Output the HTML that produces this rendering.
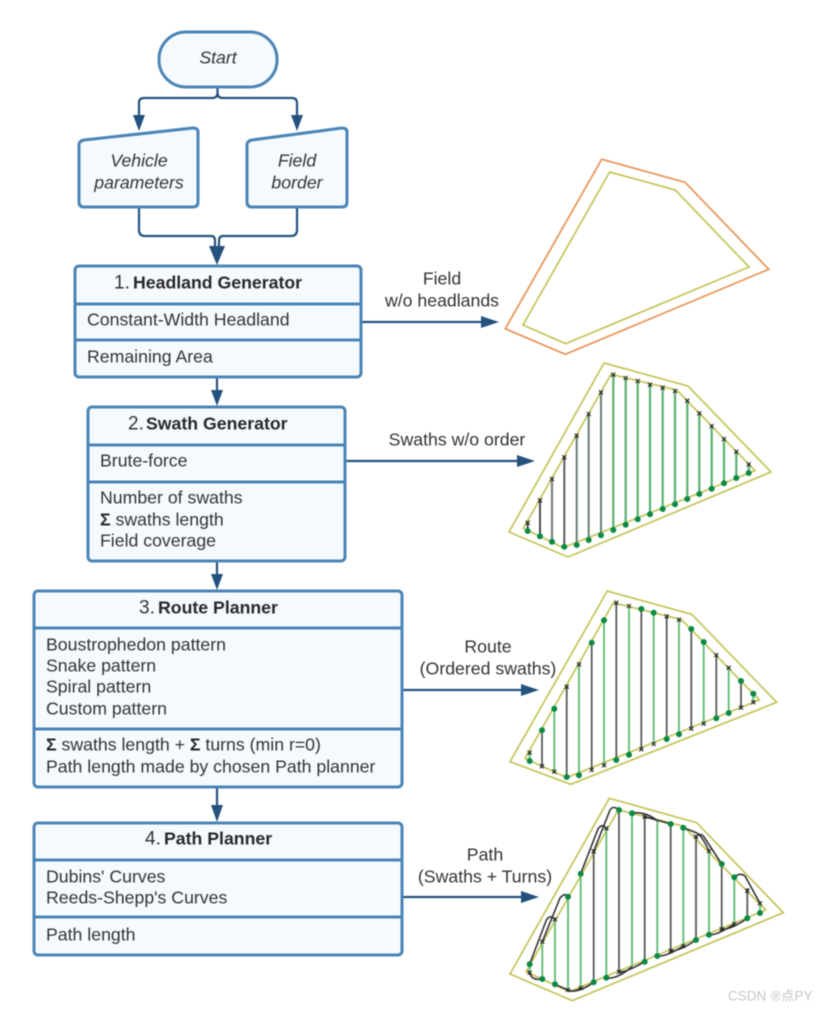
<!DOCTYPE html>
<html><head><meta charset="utf-8"><style>
html,body{margin:0;padding:0;background:#fff;width:825px;height:1010px;overflow:hidden}
svg{display:block;filter:blur(.4px)}
text{font-family:"Liberation Sans","Noto Sans CJK SC",sans-serif;font-size:17.7px;fill:#333;transform:translateY(.7px)}
.c{text-anchor:middle}.i{font-style:italic}.b{font-weight:bold;fill:#282828}.n{font-size:19px}
.box{fill:#f5faff;stroke:#4a85b7;stroke-width:3;stroke-linejoin:round}
.div{stroke:#4a85b7;stroke-width:3;fill:none}
.con{stroke:#24527f;stroke-width:2.2;fill:none}
.ah{fill:#24527f}
.y{fill:none;stroke:#c4c45a;stroke-width:1.7}
.g{stroke:#5dba72;stroke-width:1.8;fill:none}
.k{stroke:#4d554f;stroke-width:1.7;fill:none}
.x{stroke:#222;stroke-width:1.1;fill:none}
.d{stroke:#0b8a45;stroke-width:6;stroke-linecap:round;fill:none}
.t{stroke:#333;stroke-width:1.6;fill:none}
.w{font-size:13.500px;fill:#c6c6c6}
</style></head><body>
<svg width="825" height="1010" viewBox="0 0 825 1010" xmlns="http://www.w3.org/2000/svg">
<rect width="825" height="1010" fill="#fff"/>

<!-- connectors -->
<path class="con" d="M217.500 87V93Q217.500 98 212 98H144Q139 98 139 103V116M217.500 93Q217.500 98 223 98H292Q297 98 297 103V116"/>
<path class="ah" d="M133 115H145L139 131ZM291 115H303L297 131Z"/>
<path class="con" d="M139 207V230Q139 236 145 236H211Q215 236 215 241V248M297 207V230Q297 236 291 236H223Q219 236 219 241V248"/>
<path class="ah" d="M209 246H225L217 265Z"/>
<path class="con" d="M217 377V392M217 561V576M217 787V808"/>
<path class="ah" d="M211 390H223L217 406ZM211 574H223L217 590ZM211 805H223L217 822Z"/>
<path class="con" d="M361 322H484M345 461H520M402 690H524M402 897H524"/>
<path class="ah" d="M481 316V328L499 322ZM517 455V467L535 461ZM521 684V696L539 690ZM521 891V903L539 897Z"/>

<!-- start and inputs -->
<rect class="box" x="159" y="32" width="118" height="55" rx="27" ry="27"/>
<text class="c i" x="218" y="63">Start</text>
<path class="box" d="M84 140L193 128Q198 128 198 132V202Q198 207 193 207H84Q79 207 79 202V145Q79 141 84 140Z"/>
<text class="c i" x="139" y="166">Vehicle</text>
<text class="c i" x="139" y="188">parameters</text>
<path class="box" d="M252 140L342 128Q347 128 347 132V202Q347 207 342 207H252Q247 207 247 202V145Q247 141 252 140Z"/>
<text class="c i" x="297" y="166">Field</text>
<text class="c i" x="297" y="188">border</text>

<!-- box 1 -->
<rect class="box" x="75" y="266" width="286" height="111" rx="4"/>
<path class="div" d="M75 304H361M75 340H361"/>
<text class="n" x="114" y="288">1.</text><text class="b" x="133" y="288">Headland Generator</text>
<text x="87" y="325">Constant-Width Headland</text>
<text x="87" y="362">Remaining Area</text>

<!-- box 2 -->
<rect class="box" x="88" y="407" width="257" height="154" rx="4"/>
<path class="div" d="M88 445H345M88 482H345"/>
<text class="n" x="128" y="429">2.</text><text class="b" x="146" y="429">Swath Generator</text>
<text x="100" y="466">Brute-force</text>
<text x="100" y="503">Number of swaths</text>
<text x="100" y="525"><tspan class="b">Σ</tspan> swaths length</text>
<text x="100" y="546">Field coverage</text>

<!-- box 3 -->
<rect class="box" x="34" y="591" width="368" height="196" rx="4"/>
<path class="div" d="M34 628H402M34 729H402"/>
<text class="n" x="139" y="613">3.</text><text class="b" x="158" y="613">Route Planner</text>
<text x="46" y="650">Boustrophedon pattern</text>
<text x="46" y="671">Snake pattern</text>
<text x="46" y="692">Spiral pattern</text>
<text x="46" y="714">Custom pattern</text>
<text x="46" y="750"><tspan class="b">Σ</tspan> swaths length + <tspan class="b">Σ</tspan> turns (min r=0)</text>
<text x="46" y="772">Path length made by chosen Path planner</text>

<!-- box 4 -->
<rect class="box" x="34" y="823" width="368" height="132" rx="4"/>
<path class="div" d="M34 860H402M34 917H402"/>
<text class="n" x="145" y="844">4.</text><text class="b" x="164" y="844">Path Planner</text>
<text x="46" y="882">Dubins' Curves</text>
<text x="46" y="903">Reeds-Shepp's Curves</text>
<text x="46" y="940">Path length</text>

<!-- side labels -->
<text class="c" x="442" y="284">Field</text>
<text class="c" x="442" y="306">w/o headlands</text>
<text class="c" x="457" y="445">Swaths w/o order</text>
<text class="c" x="488" y="652">Route</text>
<text class="c" x="488" y="674">(Ordered swaths)</text>
<text class="c" x="485" y="860">Path</text>
<text class="c" x="485" y="882">(Swaths + Turns)</text>

<!-- field 1 -->
<polygon points="601.700,159.300 685,182.300 768.700,269.300 565.300,354.300 505.300,328.700" fill="none" stroke="#e8975c" stroke-width="1.8"/>
<polygon class="y" points="609.700,172 675.300,190 749,267 565.700,343.700 523,325"/>

<!-- field 2 -->
<polygon class="y" points="604,363 688,386 771,472 568,557 509,532"/>
<polygon class="y" points="611,374.300 676.700,390 755,470.700 563.300,547.700 523.300,528.300"/>
<path stroke="#444" stroke-width="1.9" fill="none" d="M527.700 522.700V531M540 500.300V536.300"/>
<path stroke="#777f7a" stroke-width="2.2" fill="none" d="M552 479V541.700"/>
<path stroke="#555" stroke-width="1.9" fill="none" d="M564.300 457.300V546.700"/>
<path stroke="#66806f" stroke-width="2" fill="none" d="M576.700 435.700V545M588.700 414V540M601 392.300V535.300"/>
<path stroke="#58b070" stroke-width="2.2" fill="none" d="M613.300 374.700V530M625.700 378V524.700M637.700 381V519.300M650 384.700V514.300M662.700 387.700V509M675 391V504.300M687.300 400.700V499M699.300 413.300V494M711.700 426V488.700M724 439V483.300M736.300 451.700V478M748.700 464.300V473" />
<path class="x" d="M525.700 520.700l4 4m0-4l-4 4M538 498.300l4 4m0-4l-4 4M550 477l4 4m0-4l-4 4M562.300 455.300l4 4m0-4l-4 4M574.700 433.700l4 4m0-4l-4 4M586.700 412l4 4m0-4l-4 4M599 390.300l4 4m0-4l-4 4M611.300 372.700l4 4m0-4l-4 4M623.700 376l4 4m0-4l-4 4M635.700 379l4 4m0-4l-4 4M648 382.700l4 4m0-4l-4 4M660.700 385.700l4 4m0-4l-4 4M673 389l4 4m0-4l-4 4M685.300 398.700l4 4m0-4l-4 4M697.300 411.300l4 4m0-4l-4 4M709.700 424l4 4m0-4l-4 4M722 437l4 4m0-4l-4 4M734.300 449.700l4 4m0-4l-4 4M746.700 462.300l4 4m0-4l-4 4"/>
<path class="d" d="M527.700 531h0M540 536.300h0M552 541.700h0M564.300 546.700h0M576.700 545h0M588.700 540h0M601 535.300h0M613.300 530h0M625.700 524.700h0M637.700 519.300h0M650 514.300h0M662.700 509h0M675 504.300h0M687.300 499h0M699.300 494h0M711.700 488.700h0M724 483.300h0M736.300 478h0M748.700 473h0"/>

<!-- field 3 -->
<polygon class="y" points="607.300,591 691.700,614.300 776.700,702.300 570.700,784.300 510,761.700"/>
<polygon class="y" points="613.300,602.700 681.700,619.700 759.300,700 566.700,777.700 525,758.300"/>
<path class="g" d="M529.700 752.700V761M554.300 708.700V771.700M579 664.300V775.300M604 620.300V765.300M629 606V754.700M653.700 612.700V744M679 619.700V734.300M703.700 642V723.700M728.700 667.700V713M753.300 693.700V702.300"/>
<path class="k" d="M542 730.300V766.300M566.700 686.700V777M591.700 642.700V770M616.300 602.700V760M641.300 609V749.300M666.700 616.300V739M691.300 629V728.700M716.300 655V718.300M741 681V707.700"/>
<path class="x" d="M527.700 750.700l4 4m0-4l-4 4M540 764.300l4 4m0-4l-4 4M552.300 769.700l4 4m0-4l-4 4M564.700 684.700l4 4m0-4l-4 4M577 662.300l4 4m0-4l-4 4M589.700 768l4 4m0-4l-4 4M602 763.300l4 4m0-4l-4 4M614.300 600.700l4 4m0-4l-4 4M627 604l4 4m0-4l-4 4M639.300 747.300l4 4m0-4l-4 4M651.700 742l4 4m0-4l-4 4M664.700 614.300l4 4m0-4l-4 4M677 617.700l4 4m0-4l-4 4M689.300 726.700l4 4m0-4l-4 4M701.700 721.700l4 4m0-4l-4 4M714.300 653l4 4m0-4l-4 4M726.700 665.700l4 4m0-4l-4 4M739 705.700l4 4m0-4l-4 4M751.300 700.300l4 4m0-4l-4 4"/>
<path class="d" d="M529.700 761h0M542 730.300h0M554.300 708.700h0M566.700 777h0M579 775.300h0M591.700 642.700h0M604 620.300h0M616.300 760h0M629 754.700h0M641.300 609h0M653.700 612.700h0M666.700 739h0M679 734.300h0M691.300 629h0M703.700 642h0M716.300 718.300h0M728.700 713h0M741 681h0M753.300 693.700h0"/>

<!-- field 4 -->
<polygon class="y" points="609.300,798.300 696.700,822.700 783.300,912.700 572.300,1000.700 510,974"/>
<polygon class="y" points="618.300,810 683,826 765.700,910 569.300,991.700 526,971.700"/>
<path class="g" d="M529.700 964.300V972.700M542.300 941.700V979M555 919.300V984.300M568 896.700V990M580.700 873.700V988M606.300 828.300V977.700M632 813.300V966.700M657.300 820.700V956M683.300 827.700V946M709 851V934.700M734.300 877.300V924M760 903.300V913"/>
<path class="k" d="M593.700 851.300V982.300M619 810V972M644.700 816.700V961.700M670.700 824V951M696 836.700V940M721.700 864V929.300M747.300 890.700V918.300"/>
<path class="t" d="M529.700 972Q531 981 542.300 979M529.700 964L546 921Q549 914 555 919M542.300 941.700L560 898Q565 892 568 896.700M555 984.300L568 990Q574 993 580.700 988M568 990Q577 994 593.700 982.300M580.700 873.700L598 829Q602 823 606.300 828.300M593.700 851.300L610 810Q613 805 619 810M606.300 977.700Q616 980 632 966.700M619 972Q625 973 644.700 961.700M632 813.300Q645 811 657.300 820.700M644.700 816.700L670.700 824M657.300 956Q666 957 683.300 946M670.700 951Q680 951 696 940M683.300 827.700L697 833Q702 836 709 851M696 836.700Q700 832 704 837L721.700 864M709 934.700Q716 936 734.300 924M721.700 929.300Q730 930 747.300 918.300M734.300 877.300Q740 872 745 876L760 903.300M747.300 890.700Q747 888 749 890"/>
<path class="x" d="M540.300 939.700l4 4m0-4l-4 4M553 917.300l4 4m0-4l-4 4M591.700 849.300l4 4m0-4l-4 4M604.300 826.300l4 4m0-4l-4 4M566 988l4 4m0-4l-4 4M579 986l4 4m0-4l-4 4M604.300 975.700l4 4m0-4l-4 4M617 970l4 4m0-4l-4 4M630 811.300l4 4m0-4l-4 4M642.700 814.700l4 4m0-4l-4 4M668.700 949l4 4m0-4l-4 4M681.300 944l4 4m0-4l-4 4M694 834.700l4 4m0-4l-4 4M707 849l4 4m0-4l-4 4M719.700 927.300l4 4m0-4l-4 4M732.300 922l4 4m0-4l-4 4M745.300 888.700l4 4m0-4l-4 4M758 901.300l4 4m0-4l-4 4M527.700 970.700l4 4m0-4l-4 4"/>
<path class="d" d="M529.700 964.300h0M542.300 979h0M555 984.300h0M568 896.700h0M580.700 873.700h0M593.700 982.300h0M606.300 977.700h0M619 810h0M632 813.300h0M644.700 961.700h0M657.300 956h0M670.700 824h0M683.300 827.700h0M696 940h0M709 934.700h0M721.700 864h0M734.300 877.300h0M747.300 918.300h0M760 913h0"/>

<!-- watermark -->
<text class="w" x="728" y="1000">CSDN</text>
<text class="w" x="771" y="1000">®</text>
<text class="w" x="781" y="1000">点PY</text>
</svg>
</body></html>
